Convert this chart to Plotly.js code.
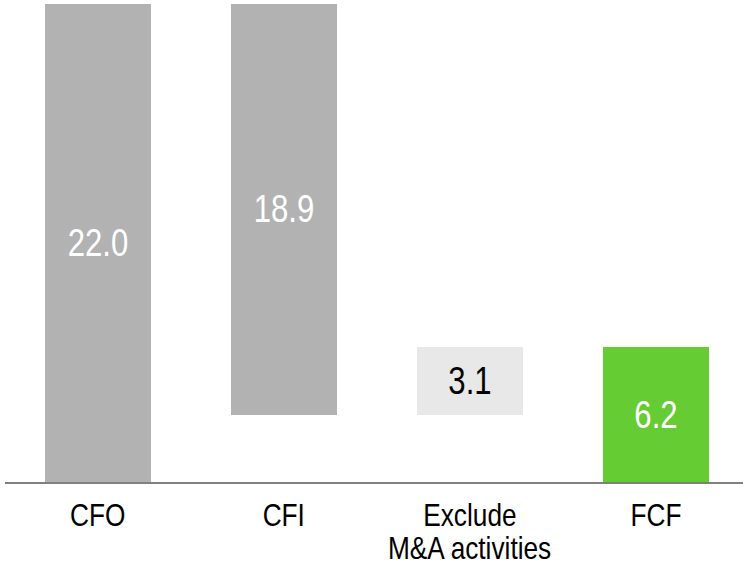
<!DOCTYPE html>
<html>
<head>
<meta charset="utf-8">
<script src="https://cdn.plot.ly/plotly-3.0.1.min.js"></script>
<style>html,body{margin:0;padding:0;background:#fff;}#chart{width:743px;height:562px;}</style>
</head>
<body>
<div id="chart"></div>
<script>
// Data
var categories = ['CFO', 'CFI', 'Exclude M&A activities', 'FCF'];
var labelLines = [['CFO'], ['CFI'], ['Exclude', 'M&A activities'], ['FCF']];
var changes = [22.0, -18.9, 3.1, 6.2];
var measures = ['relative', 'relative', 'relative', 'total'];
var barColors = ['#b2b2b2', '#b2b2b2', '#e8e8e8', '#66cc33'];
var textColors = ['#ffffff', '#ffffff', '#000000', '#ffffff'];

// build waterfall bases
var bases = [], heights = [], running = 0;
for (var i = 0; i < changes.length; i++) {
  var v = changes[i];
  if (measures[i] === 'total') {
    bases.push(0); heights.push(v); running = v;
  } else if (v >= 0) {
    bases.push(running); heights.push(v); running += v;
  } else {
    bases.push(running + v); heights.push(-v); running += v;
  }
}

var font = '"Liberation Sans Narrow", "Arial Narrow", "Liberation Sans", Arial, sans-serif';

var trace = {
  type: 'bar',
  x: categories,
  y: heights,
  base: bases,
  width: 0.57,
  marker: {color: barColors, line: {width: 0}},
  text: heights.map(function (h) { return h.toFixed(1); }),
  textposition: 'inside',
  insidetextanchor: 'middle',
  textangle: 0,
  constraintext: 'none',
  textfont: {family: font, size: 38, color: textColors},
  hoverinfo: 'none'
};

var annotations = [];
labelLines.forEach(function (lines, i) {
  lines.forEach(function (ln, j) {
    annotations.push({
      xref: 'x', yref: 'paper', x: categories[i], y: 0,
      yanchor: 'middle', xanchor: 'center',
      yshift: -32.5 - j * 33.5,
      text: ln, showarrow: false,
      font: {family: font, size: 32, color: '#000000'}
    });
  });
});

var layout = {
  width: 743, height: 562,
  margin: {l: 5, r: 0, t: 0, b: 80},
  paper_bgcolor: '#ffffff', plot_bgcolor: '#ffffff',
  showlegend: false,
  bargap: 0,
  xaxis: {
    type: 'category', range: [-0.5, 3.468],
    showticklabels: false, ticks: '', showgrid: false, zeroline: false,
    showline: true, linecolor: '#808080', linewidth: 2, fixedrange: true
  },
  yaxis: {
    range: [0, 22.18], visible: false, showgrid: false, zeroline: false, fixedrange: true
  },
  annotations: annotations
};

// Narrow face is not installed: condense the sans text horizontally to mimic it
function condense(root) {
  var ns = 'http://www.w3.org/2000/svg';
  var els = root.querySelectorAll('text.bartext, text.annotation-text');
  els.forEach(function (t) {
    if (t.parentNode && t.parentNode.getAttribute && t.parentNode.getAttribute('data-condensed')) return;
    var g = document.createElementNS(ns, 'g');
    g.setAttribute('data-condensed', '1');
    t.parentNode.insertBefore(g, t);
    g.appendChild(t);
    g.style.transformBox = 'fill-box';
    g.style.transformOrigin = 'center';
    g.style.transform = 'scaleX(0.82)';
  });
}

Plotly.newPlot('chart', [trace], layout, {staticPlot: true, displayModeBar: false}).then(function (gd) {
  condense(gd);
});
</script>
</body>
</html>
